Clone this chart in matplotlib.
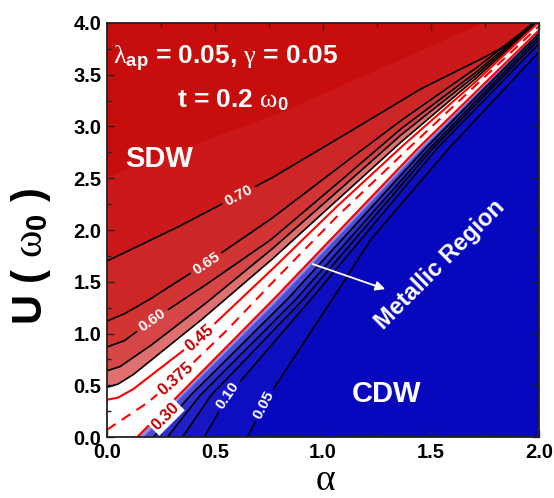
import numpy as np
import matplotlib.pyplot as plt
from matplotlib.patches import Polygon

plt.rcParams['font.family'] = ['Liberation Sans', 'DejaVu Sans']
plt.rcParams['font.weight'] = 'bold'
plt.rcParams['mathtext.fontset'] = 'custom'
plt.rcParams['mathtext.rm'] = 'Liberation Sans:bold'
plt.rcParams['mathtext.it'] = 'Liberation Serif:weight=normal'
plt.rcParams['mathtext.bf'] = 'Liberation Sans:bold'

# contour lines of the gap map, (alpha, U) points from start edge to end edge
c075_a = [0.0, 0.8, 1.74]
c075_u = [2.51, 3.13, 4.0]
c070_a = [0.0, 0.32, 0.76, 1.1, 1.45, 1.74, 1.88, 1.97]
c070_u = [1.70, 2.02, 2.5, 2.92, 3.36, 3.66, 3.82, 4.0]
c065_a = [0.0, 0.08, 0.19, 0.46, 0.755, 1.05, 1.356, 1.7, 1.975]
c065_u = [1.12, 1.19, 1.32, 1.68, 2.1, 2.57, 3.05, 3.55, 4.0]
c060_a = [0.0, 0.08, 0.21, 0.45, 0.755, 1.05, 1.356, 1.7, 1.98]
c060_u = [0.87, 0.93, 1.13, 1.46, 1.9, 2.42, 2.97, 3.51, 4.0]
c055_a = [0.0, 0.06, 0.2, 0.45, 0.755, 1.05, 1.356, 1.7, 1.985]
c055_u = [0.64, 0.68, 0.88, 1.28, 1.8, 2.34, 2.91, 3.48, 4.0]
c050_a = [0.0, 0.05, 0.12, 0.43, 0.755, 1.05, 1.356, 1.7, 1.99]
c050_u = [0.48, 0.51, 0.60, 1.12, 1.7, 2.26, 2.84, 3.45, 4.0]
c045_a = [0.0, 0.05, 0.12, 0.43, 0.755, 1.05, 1.356, 1.7, 1.995]
c045_u = [0.36, 0.38, 0.46, 0.96, 1.6, 2.2, 2.79, 3.42, 4.0]
c0375_a = [0.0, 0.18, 0.32, 0.55, 0.755, 1.05, 1.356, 1.7, 2.0]
c0375_u = [0.07, 0.32, 0.56, 1.02, 1.47, 2.1, 2.71, 3.385, 3.97]
c030_a = [0.14, 0.33, 0.766, 1.43, 2.0]
c030_u = [0.0, 0.4, 1.32, 2.77, 3.93]
c027_a = [0.17, 0.35, 0.79, 1.45, 2.0]
c027_u = [0.0, 0.4, 1.32, 2.77, 3.915]
c025_a = [0.215, 0.385, 0.83, 1.465, 2.0]
c025_u = [0.0, 0.4, 1.32, 2.77, 3.90]
c020_a = [0.28, 0.43, 0.87, 1.485, 2.0]
c020_u = [0.0, 0.4, 1.32, 2.77, 3.87]
c015_a = [0.35, 0.48, 0.905, 1.50, 2.0]
c015_u = [0.0, 0.4, 1.32, 2.77, 3.84]
c010_a = [0.45, 0.56, 0.94, 1.52, 2.0]
c010_u = [0.0, 0.4, 1.32, 2.77, 3.80]
c005_a = [0.65, 0.75, 1.04, 1.218, 1.574, 2.0]
c005_u = [0.0, 0.4, 1.32, 1.90, 2.77, 3.72]

# pixels per data unit for the fixed axes box
PX_A = 216.0
PX_U = 103.5

fig = plt.figure(figsize=(5.54, 4.98), dpi=100)
ax = fig.add_axes([107 / 554, 61 / 498, 432 / 554, 414 / 498])
ax.set_xlim(0, 2)
ax.set_ylim(0, 4)


def upper_region(a, u):
    pts = list(zip(a, u))
    if a[-1] >= 2.0 and u[-1] < 4.0:
        pts.append((2.0, 4.0))
    pts.append((0.0, 4.0))
    if a[0] > 0:
        pts.append((0.0, 0.0))
    return pts


def densify(a, u, n=900):
    a = np.asarray(a, float)
    u = np.asarray(u, float)
    s = np.concatenate([[0], np.cumsum(np.hypot(np.diff(a) * PX_A, np.diff(u) * PX_U))])
    t = np.linspace(0, s[-1], n)
    return np.interp(t, s, a), np.interp(t, s, u)


def spot(a, u, a0):
    u0 = np.interp(a0, a, u)
    d = np.interp(a0 + 0.01, a, u) - np.interp(a0 - 0.01, a, u)
    return u0, np.degrees(np.arctan2(d * PX_U, 0.02 * PX_A))


def contour_line(a, u, color, lw, ls='-', labels=(), tcolor='white', fs=11):
    da, du = densify(a, u)
    for a0, txt, r in labels:
        u0, ang = spot(a, u, a0)
        gap = np.hypot((da - a0) * PX_A, (du - u0) * PX_U) < r
        du = np.where(gap, np.nan, du)
        ax.text(a0, u0, txt, color=tcolor, fontsize=fs, fontweight='bold',
                rotation=ang, rotation_mode='anchor', ha='center', va='center', zorder=4)
    ax.plot(da, du, color=color, lw=lw, ls=ls, zorder=3, solid_capstyle='butt')


# filled bands, from the CDW side up to the SDW side
ax.add_patch(Polygon([(0, 0), (2, 0), (2, 4), (0, 4)], closed=True, fc='#0707BE', ec='none', zorder=1))
bands = [
    (c005_a, c005_u, '#0D0DC2'),
    (c010_a, c010_u, '#1616C5'),
    (c015_a, c015_u, '#2020C9'),
    (c020_a, c020_u, '#2E2ECD'),
    (c025_a, c025_u, '#4C4CD6'),
    (c027_a, c027_u, '#8C8CE6'),
    (c030_a, c030_u, '#FFFFFF'),
    (c050_a, c050_u, '#E07070'),
    (c055_a, c055_u, '#D64646'),
    (c060_a, c060_u, '#D23434'),
    (c065_a, c065_u, '#CE2626'),
    (c070_a, c070_u, '#CB1818'),
    (c075_a, c075_u, '#C80D0D'),
]
for a, u, col in bands:
    ax.add_patch(Polygon(upper_region(a, u), closed=True, fc=col, ec='none', zorder=1))

# black contour lines
contour_line(c070_a, c070_u, 'black', 1.2, labels=[(0.61, '0.70', 18)])
contour_line(c065_a, c065_u, 'black', 1.2, labels=[(0.46, '0.65', 18)])
contour_line(c060_a, c060_u, 'black', 1.2, labels=[(0.21, '0.60', 18)])
contour_line(c055_a, c055_u, 'black', 1.2)
contour_line(c050_a, c050_u, 'black', 1.2)
contour_line(c025_a, c025_u, 'black', 1.2)
contour_line(c020_a, c020_u, 'black', 1.2)
contour_line(c015_a, c015_u, 'black', 1.2)
contour_line(c010_a, c010_u, 'black', 1.2, labels=[(0.56, '0.10', 18)])
contour_line(c005_a, c005_u, 'black', 1.2, labels=[(0.727, '0.05', 18)])

# red lines inside the metallic region
contour_line(c045_a, c045_u, '#FF0000', 1.5, labels=[(0.43, '0.45', 20)], tcolor='#C00000', fs=12)
contour_line(c0375_a, c0375_u, '#FF0000', 1.5, ls=(0, (5, 3.5)),
             labels=[(0.32, '0.375', 24)], tcolor='#C00000', fs=12)
contour_line(c030_a, c030_u, '#FF0000', 1.5)
ax.text(0.27, 0.2, '0.30', color='#C00000', fontsize=12, fontweight='bold', rotation=45,
        rotation_mode='anchor', ha='center', va='center', zorder=4,
        bbox=dict(fc='white', ec='none', pad=1.5))

# annotations
ax.text(0.028, 3.60, r'$\lambda_{\mathrm{ap}}$ = 0.05, $\gamma$ = 0.05', color='white', fontsize=19,
        fontweight='bold', va='baseline', zorder=5)
ax.text(0.324, 3.18, r't = 0.2 $\omega_{\mathrm{0}}$', color='white', fontsize=19,
        fontweight='bold', va='baseline', zorder=5)
ax.text(0.083, 2.61, 'SDW', color='white', fontsize=21, fontweight='bold', va='baseline', zorder=5)
ax.text(1.134, 0.34, 'CDW', color='white', fontsize=21, fontweight='bold', va='baseline', zorder=5)
ax.text(1.54, 1.66, 'Metallic Region', color='white', fontsize=17, fontweight='bold',
        rotation=45, rotation_mode='anchor', ha='center', va='center', zorder=5)
ax.annotate('', xy=(1.30, 1.42), xytext=(0.94, 1.68),
            arrowprops=dict(arrowstyle='-|>', color='white', lw=1.3, mutation_scale=14), zorder=5)

# axes styling
ax.set_xticks(np.arange(0, 2.01, 0.5))
ax.set_yticks(np.arange(0, 4.01, 0.5))
ax.set_xticks(np.arange(0, 2.01, 0.25), minor=True)
ax.set_yticks(np.arange(0, 4.01, 0.25), minor=True)
ax.tick_params(which='both', direction='in', top=True, right=True, width=1.0, color='#222222')
ax.tick_params(which='major', length=5, labelsize=14.5, pad=4)
ax.tick_params(which='minor', length=3)
for lab in ax.get_xticklabels() + ax.get_yticklabels():
    lab.set_fontweight('bold')
for sp in ax.spines.values():
    sp.set_linewidth(1.3)
    sp.set_color('#222222')
    sp.set_zorder(6)

fig.text(325 / 554, 1 - 490 / 498, r'$\alpha$', fontsize=27, ha='center', va='baseline')
fig.text(31 / 554, 1 - 257 / 498, r'U ( $\omega_{\mathrm{0}}$ )', fontsize=30, fontweight='bold',
         rotation=90, ha='center', va='center')

fig.savefig('out.png', dpi=100)
